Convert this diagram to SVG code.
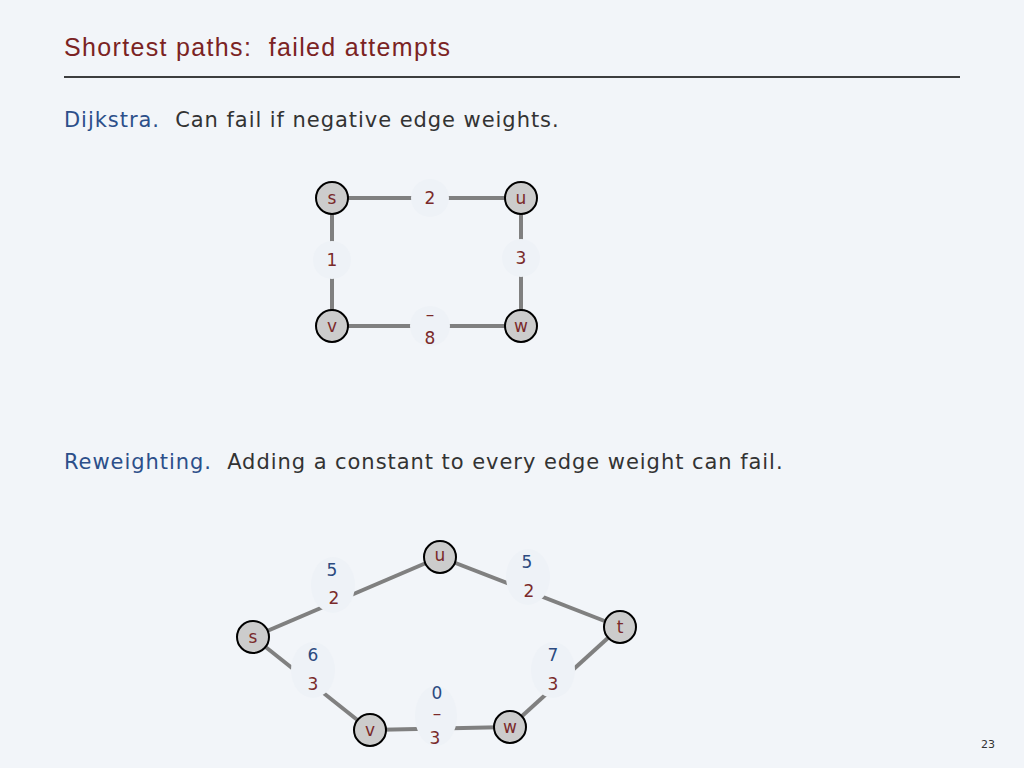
<svg xmlns="http://www.w3.org/2000/svg" width="1024" height="768" viewBox="0 0 1024 768">
<style>
.e{stroke:#808080;stroke-width:4;fill:none}
.n circle{fill:#cccccc;stroke:#000;stroke-width:2}
.n text,.l{font-family:"DejaVu Sans",sans-serif;font-size:17px;fill:#7a2a2a;text-anchor:middle;dominant-baseline:central}
.b{fill:#2c4a80}
.m{fill:#eef2f7}
.t{font-family:"DejaVu Sans",sans-serif;font-size:21px;fill:#333;letter-spacing:0.95px}
</style>
<rect width="1024" height="768" fill="#f2f5f9"/>
<text x="64" y="56" font-family="Liberation Sans,sans-serif" font-size="25" fill="#7b2323" xml:space="preserve" textLength="386">Shortest paths:  failed attempts</text>
<line x1="64" y1="77" x2="960" y2="77" stroke="#000" stroke-width="1.5"/>
<text class="t" x="64" y="127" xml:space="preserve"><tspan fill="#2c4f8a">Dijkstra.</tspan>  Can fail if negative edge weights.</text>
<text class="t" x="64" y="469" xml:space="preserve"><tspan fill="#2c4f8a">Reweighting.</tspan>  Adding a constant to every edge weight can fail.</text>
<g id="connectors">
<line class="e" x1="332" y1="198" x2="521" y2="198"/>
<line class="e" x1="332" y1="198" x2="332" y2="326"/>
<line class="e" x1="521" y1="198" x2="521" y2="326"/>
<line class="e" x1="332" y1="326" x2="521" y2="326"/>
<line class="e" x1="253" y1="637" x2="440" y2="557"/>
<line class="e" x1="440" y1="557" x2="620" y2="627"/>
<line class="e" x1="253" y1="637" x2="370" y2="730"/>
<line class="e" x1="370" y1="730" x2="510" y2="727"/>
<line class="e" x1="510" y1="727" x2="620" y2="627"/>
</g>
<g id="labels">
<circle class="m" cx="430" cy="198" r="19"/><text class="l" x="430" y="198">2</text>
<circle class="m" cx="332" cy="260" r="19"/><text class="l" x="332" y="260">1</text>
<circle class="m" cx="521" cy="258" r="19"/><text class="l" x="521" y="258">3</text>
<circle class="m" cx="430" cy="326" r="20"/><text class="l" x="430" y="314">–</text><text class="l" x="430" y="338">8</text>
<ellipse class="m" cx="333" cy="585" rx="22" ry="28"/><text class="l b" x="332" y="570">5</text><text class="l" x="334" y="598">2</text>
<ellipse class="m" cx="528" cy="577" rx="22" ry="28"/><text class="l b" x="527" y="562">5</text><text class="l" x="529" y="591">2</text>
<ellipse class="m" cx="313" cy="670" rx="22" ry="28"/><text class="l b" x="313" y="655">6</text><text class="l" x="313" y="684">3</text>
<ellipse class="m" cx="553" cy="670" rx="22" ry="28"/><text class="l b" x="553" y="655">7</text><text class="l" x="553" y="684">3</text>
<ellipse class="m" cx="436" cy="716" rx="21" ry="30"/><text class="l b" x="437" y="693">0</text><text class="l" x="437" y="713">–</text><text class="l" x="435" y="738">3</text>
</g>
<g id="s1" class="n"><circle cx="332" cy="198" r="16"/><text x="332" y="198">s</text></g>
<g id="u1" class="n"><circle cx="521" cy="198" r="16"/><text x="521" y="198">u</text></g>
<g id="v1" class="n"><circle cx="332" cy="326" r="16"/><text x="332" y="326">v</text></g>
<g id="w1" class="n"><circle cx="521" cy="326" r="16"/><text x="521" y="326">w</text></g>
<g id="s2" class="n"><circle cx="253" cy="637" r="16"/><text x="253" y="637">s</text></g>
<g id="u2" class="n"><circle cx="440" cy="557" r="16"/><text x="440" y="555">u</text></g>
<g id="t2" class="n"><circle cx="620" cy="627" r="16"/><text x="620" y="627">t</text></g>
<g id="v2" class="n"><circle cx="370" cy="730" r="16"/><text x="370" y="730">v</text></g>
<g id="w2" class="n"><circle cx="510" cy="727" r="16"/><text x="510" y="727">w</text></g>
<text x="988" y="748" font-family="DejaVu Sans,sans-serif" font-size="11" fill="#333" text-anchor="middle">23</text>
</svg>
